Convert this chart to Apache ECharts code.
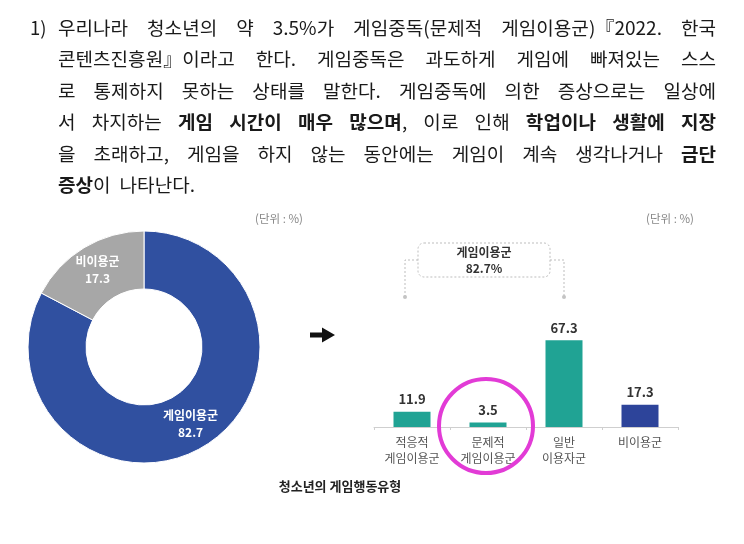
<!DOCTYPE html>
<html><head><meta charset="utf-8">
<script src="https://cdn.jsdelivr.net/npm/echarts@6/dist/echarts.min.js"></script>
<style>html,body{margin:0;padding:0;background:#fff}#c{width:744px;height:544px}</style>
</head><body><div id="c"></div>
<script>
// ---- data ----
const pieNames = ['게임이용군', '비이용군'];
const pieValues = [82.7, 17.3];
const barCategories = ['적응적\n게임이용군', '문제적\n게임이용군', '일반\n이용자군', '비이용군'];
const barValues = [11.9, 3.5, 67.3, 17.3];
const unitLabel = '(단위 : %)';
const caption = '청소년의 게임행동유형';
// paragraph lines: words, each word = pieces [text, bold]
const paraLines = [
  [[['우리나라',0]],[['청소년의',0]],[['약',0]],[['3.5%가',0]],[['게임중독(문제적',0]],[['게임이용군)『2022.',0]],[['한국',0]]],
  [[['콘텐츠진흥원』이라고',0]],[['한다.',0]],[['게임중독은',0]],[['과도하게',0]],[['게임에',0]],[['빠져있는',0]],[['스스',0]]],
  [[['로',0]],[['통제하지',0]],[['못하는',0]],[['상태를',0]],[['말한다.',0]],[['게임중독에',0]],[['의한',0]],[['증상으로는',0]],[['일상에',0]]],
  [[['서',0]],[['차지하는',0]],[['게임',1]],[['시간이',1]],[['매우',1]],[['많으며',1],[',',0]],[['이로',0]],[['인해',0]],[['학업이나',1]],[['생활에',1]],[['지장',1]]],
  [[['을',0]],[['초래하고,',0]],[['게임을',0]],[['하지',0]],[['않는',0]],[['동안에는',0]],[['게임이',0]],[['계속',0]],[['생각나거나',0]],[['금단',1]]],
  [[['증상',1],['이',0]],[['나타난다.',0]]]
];

const FONT = '"Noto Sans CJK KR", "Noto Sans", sans-serif';
const FS = 18.5;
const SX = 1.03;
const cv = document.createElement('canvas').getContext('2d');
function w(t, b){ cv.font = (b?'bold ':'') + FS + 'px ' + FONT; return cv.measureText(t).width * SX; }

const graphics = [];
const lineY = [28, 59, 91, 122, 154, 185];
const xL = 58, xR = 716;
graphics.push({type:'text', x:30, y:lineY[0], style:{text:'1)', font: FS+'px '+FONT, fill:'#1a1a1a', textVerticalAlign:'middle'}});
paraLines.forEach((words, li) => {
  const ww = words.map(wd => wd.reduce((s,p)=>s+w(p[0],p[1]),0));
  const total = ww.reduce((a,b)=>a+b,0);
  const last = li === paraLines.length-1;
  const gap = last ? 9 : (xR - xL - total) / (words.length - 1);
  let x = xL;
  words.forEach((wd, wi) => {
    let px = x;
    wd.forEach(p => {
      graphics.push({type:'text', x:px, y:lineY[li], scaleX:SX, style:{text:p[0], font:(p[1]?'bold ':'')+FS+'px '+FONT, fill:'#1a1a1a', textVerticalAlign:'middle'}});
      px += w(p[0], p[1]);
    });
    x += ww[wi] + gap;
  });
});

// unit labels
graphics.push({type:'text', x:279, y:219, style:{text:unitLabel, font:'11.5px '+FONT, fill:'#888', textAlign:'center', textVerticalAlign:'middle'}});
graphics.push({type:'text', x:670, y:219, style:{text:unitLabel, font:'11.5px '+FONT, fill:'#888', textAlign:'center', textVerticalAlign:'middle'}});
// arrow
graphics.push({type:'polygon', shape:{points:[[310,332.5],[322,332.5],[322,327.5],[335,335],[322,342.5],[322,337.5],[310,337.5]]}, style:{fill:'#111'}});
// bracket annotation
const dash = {stroke:'#bdbdbd', lineWidth:1, lineDash:[2,2], fill:null};
graphics.push({type:'polyline', shape:{points:[[418,260],[405,260],[405,297]]}, style:dash});
graphics.push({type:'polyline', shape:{points:[[550,260],[564,260],[564,297]]}, style:dash});
graphics.push({type:'circle', shape:{cx:405, cy:297, r:2}, style:{fill:'#c4c4c4'}});
graphics.push({type:'circle', shape:{cx:564, cy:297, r:2}, style:{fill:'#c4c4c4'}});
graphics.push({type:'rect', shape:{x:418, y:243, width:132, height:34, r:6}, style:{stroke:'#bdbdbd', lineWidth:1, lineDash:[2,2], fill:'#fff'}});
graphics.push({type:'text', x:484, y:260, style:{text:pieNames[0] + '\n' + pieValues[0] + '%', font:'bold 12px '+FONT, lineHeight:16, fill:'#333', textAlign:'center', textVerticalAlign:'middle'}});
// magenta highlight circle
graphics.push({type:'circle', z:100, shape:{cx:486, cy:426, r:47}, style:{stroke:'#e23bd6', lineWidth:4, fill:null}});
// caption
graphics.push({type:'text', x:340, y:486, style:{text:caption, font:'bold 13px '+FONT, fill:'#222', textAlign:'center', textVerticalAlign:'middle'}});

const chart = echarts.init(document.getElementById('c'), null, {renderer:'canvas'});
chart.setOption({
  animation:false,
  textStyle:{fontFamily:FONT},
  grid:{left:374, top:298, width:304, height:129, containLabel:false},
  xAxis:{type:'category', data:barCategories,
    axisLine:{lineStyle:{color:'#cfcfcf'}},
    axisTick:{show:true, length:3, lineStyle:{color:'#cfcfcf'}},
    axisLabel:{color:'#555', fontSize:12, lineHeight:16, margin:7, interval:0}},
  yAxis:{type:'value', min:0, max:100, show:false},
  series:[
    {type:'pie', center:[144,347], radius:[58,116], startAngle:90, clockwise:true,
     data: pieNames.map((n,i)=>({name:n, value:pieValues[i], itemStyle:{color: i===0 ? '#3050a0' : '#a7a7a7'}})),
     itemStyle:{borderColor:'#fff', borderWidth:1},
     label:{position:'inside', formatter:'{b}\n{c}', color:'#fff', fontWeight:'bold', fontSize:12, lineHeight:17},
     labelLine:{show:false}},
    {type:'bar', data: barValues.map((v,i)=>({value:v, itemStyle:{color: i===3 ? '#2d449a' : '#20a394'}})),
     barWidth:37,
     label:{show:true, position:'top', distance:6, color:'#333', fontWeight:'bold', fontSize:13}}
  ],
  graphic: graphics
});
</script></body></html>
